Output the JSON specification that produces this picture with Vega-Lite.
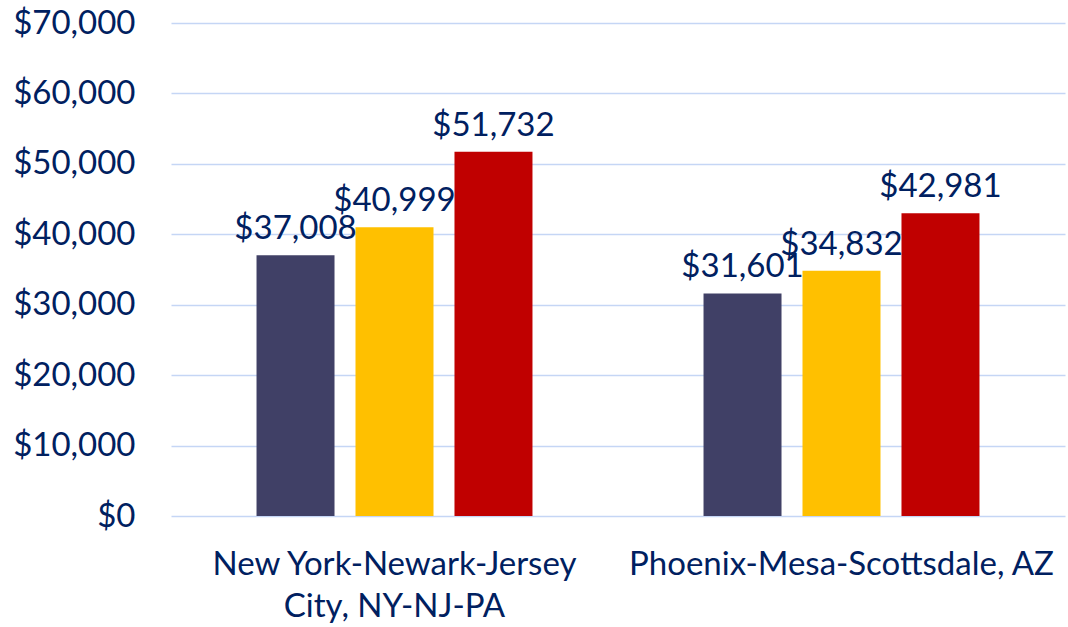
{
  "$schema": "https://vega.github.io/schema/vega-lite/v6.json",
  "width": 894,
  "height": 493,
  "autosize": "none",
  "padding": {"left": 171, "top": 23, "right": 3, "bottom": 111},
  "config": {"view": {"stroke": null}, "font": "Lato"},
  "data": {"values": [
    {"metro": "New York-Newark-Jersey City, NY-NJ-PA", "series": "Series 1", "value": 37008},
    {"metro": "New York-Newark-Jersey City, NY-NJ-PA", "series": "Series 2", "value": 40999},
    {"metro": "New York-Newark-Jersey City, NY-NJ-PA", "series": "Series 3", "value": 51732},
    {"metro": "Phoenix-Mesa-Scottsdale, AZ", "series": "Series 1", "value": 31601},
    {"metro": "Phoenix-Mesa-Scottsdale, AZ", "series": "Series 2", "value": 34832},
    {"metro": "Phoenix-Mesa-Scottsdale, AZ", "series": "Series 3", "value": 42981}
  ]},
  "encoding": {
    "x": {"field": "metro", "type": "nominal", "sort": null, "title": null,
      "scale": {"paddingInner": 0, "paddingOuter": 0},
      "axis": {"labelAngle": 0, "domain": false, "ticks": false, "labelFontSize": 33, "labelColor": "#002060",
        "labelPadding": 32, "labelLineHeight": 42, "labelLimit": 0,
        "labelExpr": "datum.value == 'New York-Newark-Jersey City, NY-NJ-PA' ? ['New York-Newark-Jersey', 'City, NY-NJ-PA'] : datum.value"}},
    "xOffset": {"field": "series", "type": "nominal", "sort": null,
      "scale": {"paddingInner": 0.212, "paddingOuter": 0.864}},
    "y": {"field": "value", "type": "quantitative", "title": null,
      "scale": {"domain": [0, 70000], "nice": false},
      "axis": {"values": [0, 10000, 20000, 30000, 40000, 50000, 60000, 70000], "format": "$,.0f",
        "domain": false, "ticks": false, "labelPadding": 36, "labelFontSize": 33, "labelColor": "#002060",
        "gridColor": "#C5D6F5", "gridWidth": 1.5}}
  },
  "layer": [
    {"mark": {"type": "bar"},
      "encoding": {"color": {"field": "series", "type": "nominal", "legend": null,
        "scale": {"domain": ["Series 1", "Series 2", "Series 3"], "range": ["#404066", "#FFC000", "#C00000"]}}}},
    {"mark": {"type": "text", "baseline": "bottom", "dy": -9, "fontSize": 33, "color": "#002060"},
      "encoding": {"text": {"field": "value", "type": "quantitative", "format": "$,.0f"}}}
  ]
}
